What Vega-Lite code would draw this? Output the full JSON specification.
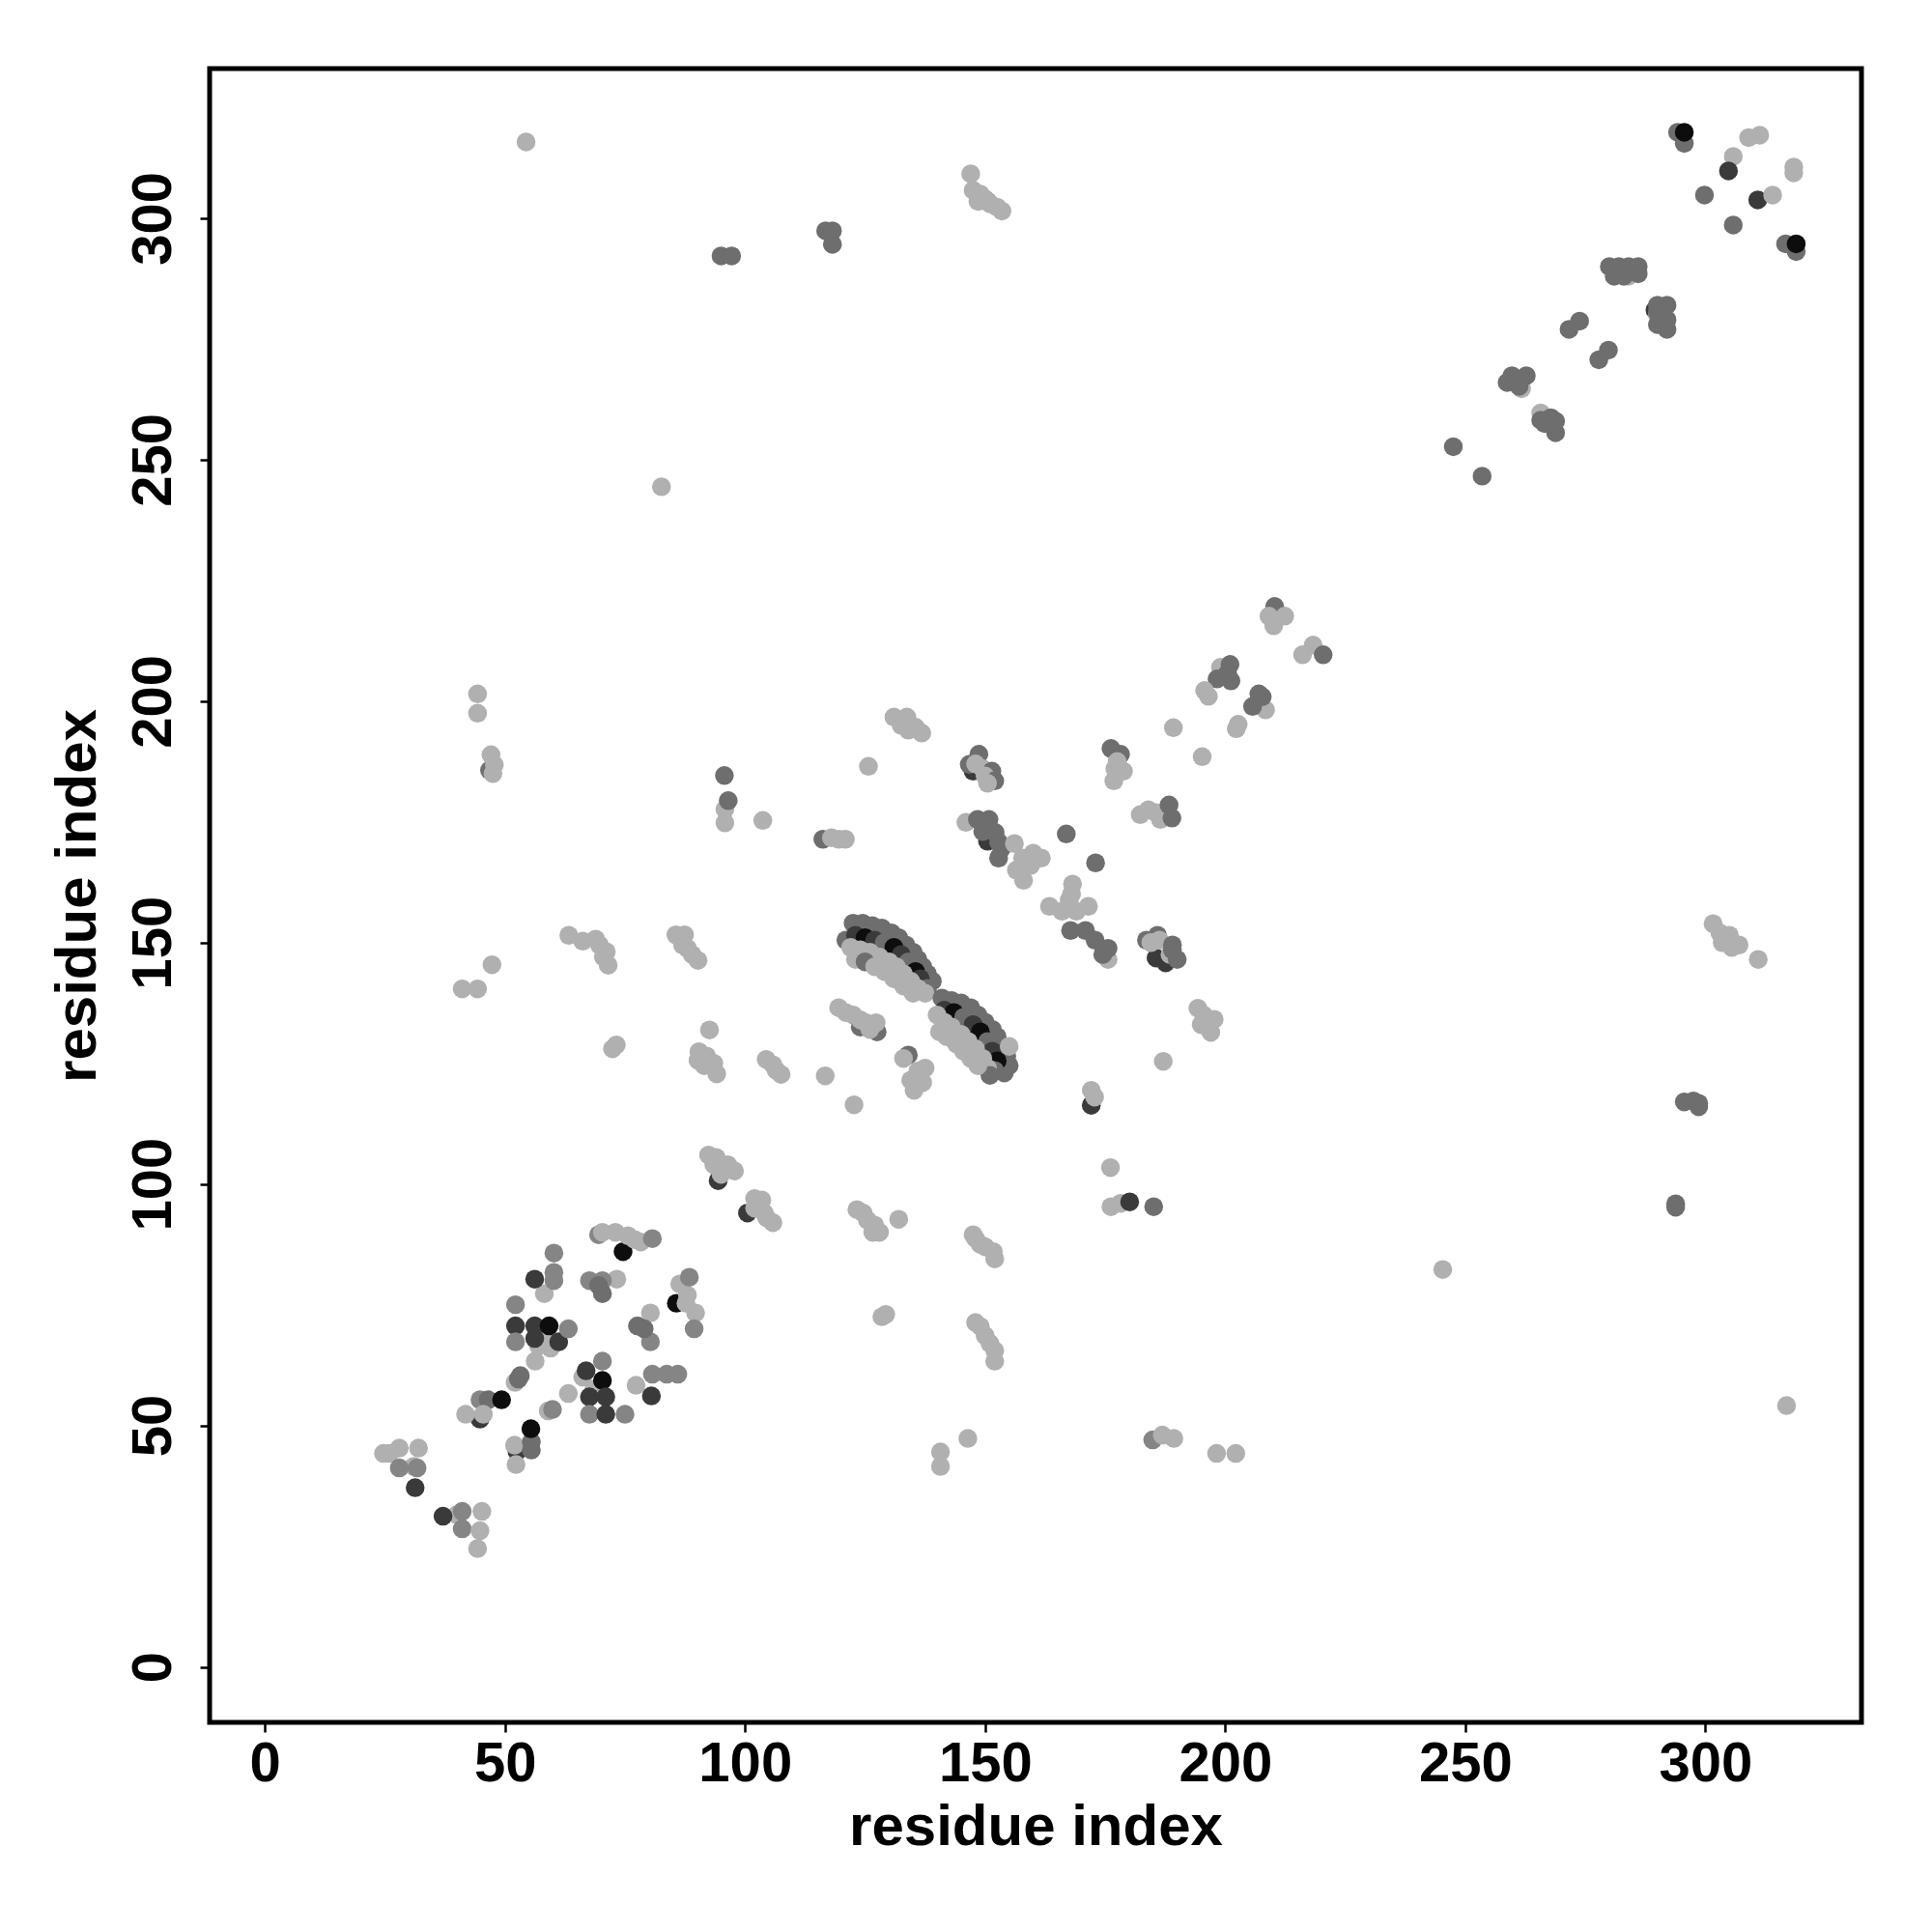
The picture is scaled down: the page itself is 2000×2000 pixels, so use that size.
{
"$schema": "https://vega.github.io/schema/vega-lite/v6.json",
"width": 1710, "height": 1712,
"autosize": {"type": "none"},
"padding": {"left": 217, "top": 71, "right": 73, "bottom": 217},
"background": "white",
"config": {"view": {"stroke": "black", "strokeWidth": 5}},
"data": {"values": [
{"x":294.2,"y":317.8,"c":"m"},{"x":295.6,"y":315.5,"c":"m"},{"x":295.6,"y":317.8,"c":"k"},
{"x":309,"y":316.7,"c":"l"},{"x":311.3,"y":317.2,"c":"l"},{"x":305.8,"y":312.8,"c":"l"},{"x":304.8,"y":309.8,"c":"d"},
{"x":318.4,"y":310.6,"c":"l"},{"x":318.4,"y":309.4,"c":"l"},{"x":299.8,"y":304.8,"c":"m"},{"x":310.9,"y":303.8,"c":"d"},{"x":314,"y":304.8,"c":"l"},
{"x":305.8,"y":298.6,"c":"m"},{"x":316.7,"y":294.7,"c":"m"},{"x":318.9,"y":293.1,"c":"m"},{"x":318.9,"y":294.7,"c":"k"},
{"x":285,"y":289,"c":"d"},{"x":284,"y":288,"c":"l"},{"x":280,"y":290,"c":"m"},{"x":282,"y":290,"c":"m"},{"x":284,"y":290,"c":"m"},{"x":286,"y":290,"c":"m"},{"x":281,"y":288,"c":"m"},{"x":283,"y":288,"c":"m"},{"x":286,"y":288.5,"c":"m"},
{"x":289.5,"y":281,"c":"d"},{"x":290,"y":280,"c":"l"},{"x":290,"y":282,"c":"m"},{"x":292,"y":282,"c":"m"},{"x":290,"y":280.5,"c":"m"},{"x":292,"y":279,"c":"m"},{"x":290,"y":278,"c":"m"},{"x":292,"y":277,"c":"m"},
{"x":271.6,"y":277,"c":"m"},{"x":273.8,"y":278.7,"c":"m"},{"x":277.8,"y":270.7,"c":"m"},{"x":279.8,"y":272.7,"c":"m"},
{"x":261.7,"y":264.7,"c":"l"},{"x":259.7,"y":267.4,"c":"m"},{"x":262.7,"y":267.4,"c":"m"},{"x":261.2,"y":265.2,"c":"m"},{"x":258.7,"y":266,"c":"m"},
{"x":265.7,"y":259.7,"c":"l"},{"x":267.8,"y":258.7,"c":"m"},{"x":266.5,"y":257.5,"c":"m"},{"x":268.8,"y":255.6,"c":"m"},{"x":268.8,"y":258,"c":"m"},{"x":265.7,"y":258.2,"c":"m"},
{"x":247.5,"y":252.7,"c":"m"},{"x":253.5,"y":246.6,"c":"m"},
{"x":54.4,"y":315.8,"c":"l"},{"x":95,"y":292.2,"c":"m"},{"x":97.2,"y":292.2,"c":"m"},{"x":116.8,"y":297.4,"c":"m"},{"x":118.2,"y":297.4,"c":"m"},{"x":118.2,"y":294.6,"c":"m"},
{"x":147,"y":309.2,"c":"l"},{"x":147.5,"y":305.8,"c":"l"},{"x":149,"y":305,"c":"l"},{"x":150.5,"y":303.5,"c":"g"},{"x":150,"y":304,"c":"l"},{"x":151,"y":303,"c":"l"},{"x":152.5,"y":302.3,"c":"l"},{"x":153.5,"y":301.5,"c":"l"},{"x":148.5,"y":303.5,"c":"l"},
{"x":82.6,"y":244.4,"c":"l"},
{"x":210.3,"y":219.6,"c":"m"},{"x":209.1,"y":217.6,"c":"l"},{"x":212.4,"y":217.6,"c":"l"},{"x":210.1,"y":215.6,"c":"l"},
{"x":218.3,"y":211.6,"c":"l"},{"x":216.1,"y":209.6,"c":"l"},{"x":220.4,"y":209.6,"c":"m"},
{"x":199,"y":207,"c":"l"},{"x":201,"y":207.6,"c":"m"},{"x":201.2,"y":204.2,"c":"m"},{"x":198.3,"y":204.6,"c":"m"},{"x":200.5,"y":205.8,"c":"m"},
{"x":195.7,"y":202.2,"c":"l"},{"x":196.5,"y":201,"c":"l"},
{"x":208.4,"y":198.2,"c":"l"},{"x":207.7,"y":200.9,"c":"m"},{"x":205.7,"y":198.9,"c":"m"},{"x":207,"y":201.5,"c":"m"},
{"x":202.7,"y":195.2,"c":"l"},{"x":202.3,"y":194.3,"c":"l"},{"x":189.2,"y":194.5,"c":"l"},{"x":195.2,"y":188.5,"c":"l"},
{"x":147.5,"y":185.5,"c":"d"},{"x":146.7,"y":186.9,"c":"m"},{"x":148.7,"y":189,"c":"m"},{"x":148,"y":187,"c":"l"},{"x":149.5,"y":186,"c":"l"},{"x":151.4,"y":185.5,"c":"m"},{"x":150,"y":184.5,"c":"l"},{"x":152,"y":183.5,"c":"m"},{"x":150.5,"y":183,"c":"l"},
{"x":176.2,"y":190.2,"c":"m"},{"x":178.2,"y":189,"c":"m"},{"x":177,"y":186,"c":"l"},{"x":178.8,"y":185.5,"c":"l"},{"x":176.8,"y":183.5,"c":"l"},{"x":177.5,"y":187.5,"c":"l"},
{"x":182.3,"y":176.5,"c":"l"},{"x":184,"y":177.5,"c":"l"},{"x":185.6,"y":176.9,"c":"l"},{"x":186.5,"y":175.5,"c":"l"},{"x":188.3,"y":178.5,"c":"m"},{"x":188.9,"y":175.8,"c":"m"},
{"x":146,"y":174.9,"c":"l"},{"x":150.5,"y":171,"c":"d"},{"x":148.4,"y":175.5,"c":"m"},{"x":150.8,"y":175.5,"c":"m"},{"x":149.5,"y":173,"c":"m"},{"x":152.1,"y":172.8,"c":"m"},{"x":152.8,"y":170.8,"c":"m"},{"x":153.4,"y":169.5,"c":"m"},{"x":152.8,"y":167.5,"c":"m"},
{"x":157.8,"y":167.5,"c":"l"},{"x":161.7,"y":167.5,"c":"l"},{"x":156.1,"y":170.5,"c":"l"},{"x":158,"y":162.9,"c":"l"},{"x":159.5,"y":166,"c":"l"},{"x":160,"y":168.5,"c":"l"},{"x":156.5,"y":165,"c":"l"},
{"x":166.9,"y":172.5,"c":"m"},{"x":173,"y":166.5,"c":"m"},
{"x":167.5,"y":158.8,"c":"l"},{"x":168.2,"y":162.1,"c":"l"},{"x":163.4,"y":157.5,"c":"l"},{"x":171.5,"y":157.5,"c":"l"},{"x":166,"y":156.5,"c":"l"},{"x":169,"y":156.5,"c":"l"},{"x":168,"y":160,"c":"l"},
{"x":175.6,"y":146.5,"c":"l"},{"x":167.8,"y":152.5,"c":"m"},{"x":170.9,"y":152.5,"c":"m"},{"x":172.9,"y":150.5,"c":"m"},{"x":175.6,"y":148.8,"c":"m"},{"x":174.5,"y":147.5,"c":"m"},
{"x":185.6,"y":146.8,"c":"d"},{"x":187.6,"y":145.8,"c":"d"},{"x":183.6,"y":150.5,"c":"m"},{"x":185.9,"y":151.5,"c":"m"},{"x":186.3,"y":150.5,"c":"l"},{"x":184.5,"y":150,"c":"l"},{"x":188.5,"y":147.5,"c":"l"},{"x":189,"y":149.5,"c":"m"},{"x":190,"y":146.5,"c":"m"},{"x":189,"y":148.5,"c":"m"},
{"x":194.3,"y":136.4,"c":"l"},{"x":195.5,"y":135,"c":"l"},{"x":197.7,"y":134.1,"c":"l"},{"x":197,"y":131.4,"c":"l"},{"x":195,"y":133,"c":"l"},{"x":196.5,"y":132.5,"c":"l"},
{"x":187.1,"y":125.4,"c":"l"},
{"x":172.1,"y":116.3,"c":"d"},{"x":172.1,"y":119.4,"c":"l"},{"x":172.8,"y":118,"c":"l"},
{"x":176.1,"y":103.4,"c":"l"},{"x":176.2,"y":95.3,"c":"l"},{"x":178.2,"y":96,"c":"l"},{"x":180.1,"y":96.3,"c":"d"},{"x":185.1,"y":95.3,"c":"m"},
{"x":245.3,"y":82.3,"c":"l"},
{"x":184.9,"y":47,"c":"g"},{"x":186.9,"y":48,"c":"l"},{"x":189.3,"y":47.3,"c":"l"},{"x":198.2,"y":44.2,"c":"l"},{"x":202.2,"y":44.2,"c":"l"},
{"x":301.6,"y":153.9,"c":"l"},{"x":303,"y":152,"c":"l"},{"x":305,"y":151.5,"c":"l"},{"x":303.5,"y":150,"c":"l"},{"x":307,"y":149.5,"c":"l"},{"x":305.5,"y":149,"c":"l"},{"x":311,"y":146.5,"c":"l"},
{"x":295.6,"y":117,"c":"m"},{"x":297.5,"y":117.2,"c":"m"},{"x":298.6,"y":116.7,"c":"m"},{"x":298.6,"y":116,"c":"m"},
{"x":293.8,"y":95.9,"c":"m"},{"x":293.8,"y":95.2,"c":"m"},{"x":316.9,"y":54.1,"c":"l"},
{"x":44.3,"y":201.5,"c":"l"},{"x":44.3,"y":197.5,"c":"l"},{"x":46.8,"y":185.7,"c":"m"},{"x":47.1,"y":188.9,"c":"l"},{"x":47.8,"y":186.8,"c":"l"},{"x":47.5,"y":185,"c":"l"},
{"x":47.3,"y":145.4,"c":"l"},{"x":41.1,"y":140.4,"c":"l"},{"x":44.3,"y":140.4,"c":"l"},
{"x":63.3,"y":151.5,"c":"l"},{"x":66.2,"y":150.3,"c":"l"},{"x":68.9,"y":150.7,"c":"l"},{"x":69.7,"y":149.5,"c":"l"},{"x":71.1,"y":148.1,"c":"l"},{"x":71.5,"y":145.3,"c":"l"},{"x":70.5,"y":147,"c":"l"},
{"x":85.6,"y":151.6,"c":"l"},{"x":87.4,"y":151.6,"c":"l"},{"x":88,"y":148.8,"c":"l"},{"x":89,"y":147.5,"c":"l"},{"x":90.2,"y":146.3,"c":"l"},{"x":87,"y":149.5,"c":"l"},
{"x":95.8,"y":177.6,"c":"l"},{"x":95.8,"y":174.8,"c":"l"},{"x":95.7,"y":184.6,"c":"m"},{"x":96.5,"y":179.4,"c":"m"},
{"x":73.2,"y":128.8,"c":"l"},{"x":72.4,"y":128,"c":"l"},
{"x":92.6,"y":131.9,"c":"l"},{"x":90.2,"y":125.6,"c":"l"},{"x":91.5,"y":124.5,"c":"l"},{"x":94.1,"y":122.8,"c":"l"},{"x":92,"y":126.5,"c":"l"},{"x":93.5,"y":125,"c":"l"},{"x":90.4,"y":127.4,"c":"l"},
{"x":105.8,"y":124.7,"c":"l"},{"x":107.5,"y":122.7,"c":"l"},{"x":104.4,"y":125.8,"c":"l"},{"x":106.5,"y":123.5,"c":"l"},
{"x":116.7,"y":122.4,"c":"l"},{"x":122.7,"y":116.4,"c":"l"},
{"x":134,"y":126.7,"c":"m"},{"x":133,"y":126,"c":"l"},{"x":136,"y":123.4,"c":"l"},{"x":135.2,"y":119.4,"c":"l"},{"x":134.5,"y":121.5,"c":"l"},{"x":137,"y":121,"c":"l"},{"x":137.5,"y":124,"c":"l"},
{"x":103.7,"y":175.3,"c":"l"},{"x":116.2,"y":171.4,"c":"m"},{"x":118,"y":171.7,"c":"l"},{"x":119.5,"y":171.4,"c":"l"},{"x":120.9,"y":171.4,"c":"l"},
{"x":125.7,"y":186.5,"c":"l"},
{"x":131,"y":196.7,"c":"l"},{"x":133.7,"y":196.7,"c":"l"},{"x":135.5,"y":194.6,"c":"l"},{"x":136.8,"y":193.4,"c":"l"},{"x":132.5,"y":195,"c":"l"},{"x":134,"y":194,"c":"l"},
{"x":94.4,"y":100.7,"c":"d"},{"x":92.4,"y":106,"c":"l"},{"x":93.5,"y":104,"c":"l"},{"x":96.4,"y":104,"c":"l"},{"x":97.8,"y":102.7,"c":"l"},{"x":95,"y":102,"c":"l"},{"x":94,"y":105.5,"c":"l"},
{"x":100.5,"y":94,"c":"d"},{"x":103.5,"y":96.7,"c":"l"},{"x":102,"y":95,"c":"l"},{"x":104,"y":94,"c":"l"},{"x":105.8,"y":92,"c":"l"},{"x":104.5,"y":93,"c":"l"},{"x":102,"y":97,"c":"l"},
{"x":123.3,"y":94.7,"c":"l"},{"x":124.6,"y":94,"c":"l"},{"x":125.5,"y":92.5,"c":"l"},{"x":126.6,"y":90,"c":"l"},{"x":128,"y":90,"c":"l"},{"x":132,"y":92.7,"c":"l"},{"x":127,"y":91.5,"c":"l"},
{"x":129.3,"y":73,"c":"l"},{"x":128.5,"y":72.5,"c":"l"},
{"x":148,"y":88.7,"c":"l"},{"x":149,"y":87.5,"c":"l"},{"x":150,"y":87,"c":"l"},{"x":151.7,"y":86,"c":"l"},{"x":152,"y":84.5,"c":"l"},{"x":147.5,"y":89.5,"c":"l"},
{"x":148,"y":71.3,"c":"l"},{"x":149,"y":70.5,"c":"l"},{"x":150,"y":68.6,"c":"l"},{"x":151,"y":67,"c":"l"},{"x":152,"y":65.5,"c":"l"},{"x":152,"y":63.3,"c":"l"},
{"x":146.4,"y":47.3,"c":"l"},{"x":140.7,"y":44.5,"c":"l"},{"x":140.7,"y":41.5,"c":"l"},
{"x":24.7,"y":44.2,"c":"l"},{"x":28,"y":45.3,"c":"l"},{"x":32,"y":45.3,"c":"l"},{"x":26,"y":44.2,"c":"l"},
{"x":31,"y":41.5,"c":"l"},{"x":28,"y":41.2,"c":"g"},{"x":31.7,"y":41.2,"c":"g"},{"x":31.3,"y":37.1,"c":"d"},
{"x":40,"y":31.5,"c":"l"},{"x":37.1,"y":31.2,"c":"d"},{"x":41.1,"y":32.2,"c":"g"},{"x":41.1,"y":28.6,"c":"g"},{"x":45.2,"y":32.2,"c":"l"},{"x":44.8,"y":28.2,"c":"l"},{"x":44.3,"y":24.5,"c":"l"},
{"x":44.8,"y":55.3,"c":"g"},{"x":46.5,"y":55.3,"c":"m"},{"x":49.3,"y":55.3,"c":"k"},{"x":44.8,"y":51.3,"c":"d"},{"x":41.8,"y":52.3,"c":"l"},{"x":45.5,"y":52.3,"c":"l"},
{"x":52.1,"y":58.9,"c":"l"},{"x":52.8,"y":59.6,"c":"m"},{"x":53.2,"y":60.3,"c":"m"},
{"x":52.5,"y":44.6,"c":"d"},{"x":52,"y":45.9,"c":"l"},{"x":52.3,"y":41.9,"c":"l"},{"x":55.5,"y":44.9,"c":"m"},{"x":55.5,"y":46.6,"c":"m"},{"x":55.4,"y":49.3,"c":"k"},
{"x":56.3,"y":63.3,"c":"l"},{"x":59.5,"y":66,"c":"l"},{"x":57,"y":66.5,"c":"l"},{"x":58.5,"y":67.5,"c":"l"},
{"x":52.2,"y":75,"c":"g"},{"x":52.2,"y":70.6,"c":"d"},{"x":52.2,"y":67.3,"c":"g"},{"x":56.2,"y":70.6,"c":"d"},{"x":56.2,"y":68,"c":"d"},{"x":59.2,"y":70.6,"c":"k"},{"x":61.2,"y":67.3,"c":"d"},{"x":63.2,"y":70,"c":"g"},
{"x":58.2,"y":77.3,"c":"l"},{"x":56.2,"y":80.3,"c":"d"},{"x":60.2,"y":85.7,"c":"g"},{"x":60.2,"y":81.7,"c":"g"},{"x":60.2,"y":80,"c":"g"},
{"x":73.3,"y":80.3,"c":"l"},{"x":67.6,"y":80,"c":"g"},{"x":70.3,"y":80,"c":"g"},{"x":70.3,"y":77.3,"c":"m"},{"x":69.5,"y":79,"c":"m"},
{"x":69.5,"y":89.5,"c":"g"},{"x":74.6,"y":86,"c":"k"},{"x":70.3,"y":90,"c":"l"},{"x":73,"y":90,"c":"l"},{"x":75.6,"y":89.3,"c":"l"},{"x":77,"y":88.5,"c":"l"},{"x":78.3,"y":88,"c":"l"},{"x":80.7,"y":88.7,"c":"g"},
{"x":85.7,"y":75.3,"c":"k"},{"x":86.4,"y":79.3,"c":"l"},{"x":87.7,"y":75.3,"c":"l"},{"x":89.7,"y":73.3,"c":"l"},{"x":88,"y":77,"c":"l"},{"x":88.4,"y":80.7,"c":"g"},{"x":89.4,"y":70,"c":"g"},
{"x":80.3,"y":73.3,"c":"l"},{"x":77.6,"y":70.6,"c":"m"},{"x":80.3,"y":67.3,"c":"g"},{"x":79,"y":70,"c":"m"},
{"x":66.2,"y":60,"c":"l"},{"x":63.2,"y":56.6,"c":"l"},{"x":68.5,"y":57.5,"c":"l"},{"x":70.3,"y":63.3,"c":"g"},{"x":66.9,"y":61.3,"c":"d"},{"x":70.3,"y":59.3,"c":"k"},{"x":71,"y":55.9,"c":"d"},{"x":67.6,"y":55.9,"c":"d"},{"x":67.6,"y":52.3,"c":"g"},{"x":71,"y":52.3,"c":"d"},{"x":75,"y":52.3,"c":"g"},
{"x":59,"y":53,"c":"l"},{"x":59.9,"y":53.3,"c":"g"},
{"x":77.3,"y":58.3,"c":"l"},{"x":80.7,"y":60.6,"c":"g"},{"x":83.7,"y":60.6,"c":"g"},{"x":86,"y":60.6,"c":"g"},{"x":80.5,"y":56.1,"c":"d"},
{"x":119.5,"y":136.5,"c":"l"},{"x":121,"y":135.5,"c":"l"},{"x":122.5,"y":135,"c":"l"},{"x":124,"y":132.5,"c":"m"},{"x":127.5,"y":131.5,"c":"m"},{"x":124,"y":134,"c":"l"},{"x":125.2,"y":133.4,"c":"l"},{"x":127.3,"y":133.4,"c":"l"},{"x":126,"y":132,"c":"l"},
{"x":121,"y":150.5,"c":"m"},{"x":122.5,"y":154,"c":"m"},{"x":124.5,"y":154,"c":"m"},{"x":126.5,"y":153.5,"c":"m"},{"x":128.5,"y":153,"c":"m"},{"x":130.5,"y":152,"c":"m"},{"x":132,"y":151,"c":"m"},{"x":133.5,"y":149.5,"c":"m"},{"x":135,"y":148,"c":"m"},{"x":136,"y":146.5,"c":"m"},{"x":137,"y":145,"c":"m"},{"x":138,"y":143.5,"c":"m"},{"x":139,"y":142,"c":"m"},
{"x":123,"y":151.5,"c":"d"},{"x":125,"y":151,"c":"k"},{"x":127,"y":150.5,"c":"d"},{"x":129,"y":150,"c":"m"},{"x":131,"y":149,"c":"k"},{"x":132.5,"y":147.5,"c":"d"},{"x":134,"y":146,"c":"m"},{"x":135.5,"y":144,"c":"k"},{"x":136.5,"y":142.5,"c":"d"},{"x":138,"y":140.5,"c":"m"},
{"x":122,"y":149,"c":"l"},{"x":124,"y":148.5,"c":"l"},{"x":126,"y":148,"c":"l"},{"x":128,"y":147,"c":"l"},{"x":130,"y":146,"c":"l"},{"x":131.5,"y":145,"c":"l"},{"x":133,"y":143.5,"c":"l"},{"x":134.5,"y":142,"c":"l"},{"x":136,"y":140.5,"c":"l"},{"x":137.5,"y":139.5,"c":"l"},
{"x":123,"y":146.5,"c":"l"},{"x":125,"y":146,"c":"m"},{"x":127,"y":145,"c":"l"},{"x":129,"y":144,"c":"l"},{"x":131,"y":142.5,"c":"l"},{"x":133,"y":141,"c":"l"},{"x":135,"y":139.5,"c":"l"},
{"x":141,"y":138.5,"c":"m"},{"x":143,"y":138,"c":"m"},{"x":145,"y":137.5,"c":"m"},{"x":147,"y":136.5,"c":"m"},{"x":148.5,"y":135,"c":"m"},{"x":150,"y":133.5,"c":"m"},{"x":151.5,"y":132,"c":"m"},{"x":152.5,"y":130.5,"c":"m"},{"x":153.5,"y":128.5,"c":"m"},{"x":154.5,"y":126.5,"c":"m"},{"x":155,"y":124.5,"c":"m"},{"x":154,"y":123,"c":"m"},
{"x":141.5,"y":136,"c":"d"},{"x":143.5,"y":135.5,"c":"k"},{"x":145.5,"y":134.5,"c":"m"},{"x":147.5,"y":133,"c":"d"},{"x":149,"y":131.5,"c":"k"},{"x":150.5,"y":129.5,"c":"m"},{"x":151.5,"y":127.5,"c":"d"},{"x":152.5,"y":125.5,"c":"k"},{"x":152,"y":123.5,"c":"m"},
{"x":140,"y":135,"c":"l"},{"x":141.5,"y":133.5,"c":"l"},{"x":143,"y":132.5,"c":"l"},{"x":145,"y":131,"c":"l"},{"x":146.5,"y":129.5,"c":"l"},{"x":148,"y":128,"c":"l"},{"x":149.5,"y":126,"c":"l"},{"x":150.5,"y":124,"c":"l"},{"x":151,"y":122.5,"c":"m"},
{"x":140.5,"y":131.5,"c":"l"},{"x":142,"y":130.5,"c":"l"},{"x":144,"y":129,"c":"l"},{"x":145.5,"y":127.5,"c":"l"},{"x":147,"y":126,"c":"l"},{"x":148.5,"y":124.5,"c":"l"},{"x":155,"y":128.5,"c":"l"}
]},
"mark": {"type": "point", "filled": true, "shape": "circle", "size": 380, "opacity": 1},
"encoding": {
"x": {"field": "x", "type": "quantitative",
 "scale": {"domain": [-11.5, 332.5], "nice": false, "zero": false},
 "axis": {"values": [0, 50, 100, 150, 200, 250, 300], "title": "residue index", "grid": false, "domain": false,
  "tickColor": "black", "tickSize": 10, "tickWidth": 2.5,
  "labelFont": "Liberation Sans", "labelFontSize": 58, "labelFontWeight": "bold", "labelColor": "black",
  "labelBaseline": "alphabetic", "labelPadding": 50, "labelFlush": false, "labelOverlap": false,
  "titleFont": "Liberation Sans", "titleFontSize": 60, "titleFontWeight": "bold", "titleColor": "black",
  "titleBaseline": "alphabetic", "titleX": 855, "titleY": 126, "titleAlign": "center"}},
"y": {"field": "y", "type": "quantitative",
 "scale": {"domain": [-11.5, 331], "nice": false, "zero": false},
 "axis": {"values": [0, 50, 100, 150, 200, 250, 300], "title": "residue index", "grid": false, "domain": false,
  "tickColor": "black", "tickSize": 10, "tickWidth": 2.5,
  "labelFont": "Liberation Sans", "labelFontSize": 58, "labelFontWeight": "bold", "labelColor": "black",
  "labelAngle": -90, "labelAlign": "center", "labelBaseline": "alphabetic", "labelPadding": 31, "labelFlush": false, "labelOverlap": false,
  "titleFont": "Liberation Sans", "titleFontSize": 60, "titleFontWeight": "bold", "titleColor": "black",
  "titleAngle": -90, "titleBaseline": "alphabetic", "titleX": -119, "titleY": 856, "titleAlign": "center"}},
"color": {"field": "c", "type": "nominal",
 "scale": {"domain": ["l", "g", "m", "d", "k"], "range": ["#b0b0b0", "#858585", "#6e6e6e", "#3a3a3a", "#0d0d0d"]},
 "legend": null}
}
}
